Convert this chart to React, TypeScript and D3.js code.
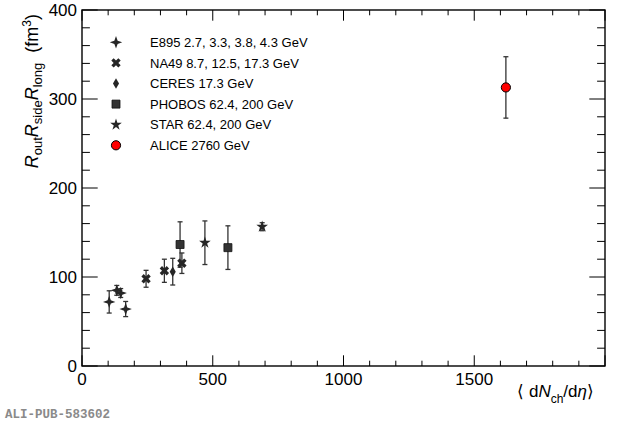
import React from "react";
import * as d3 from "d3";

const W = 620;
const H = 423;
const M = { left: 82, right: 605, top: 10, bottom: 366 };

const xTicksMajor = [0, 500, 1000, 1500, 2000];
const xTickLabels = ["0", "500", "1000", "1500"];
const yTicksMajor = [0, 100, 200, 300, 400];
const yTickLabels = ["0", "100", "200", "300", "400"];

// Data
const e895X = [104, 133, 148, 167];
const e895Y = [72, 85, 82, 64];
const e895E = [12.5, 5.5, 5, 8.5];

const na49X = [245, 315, 382];
const na49Y = [98, 107, 115.5];
const na49E = [9.5, 13, 11.5];

const ceresX = [347];
const ceresY = [106];
const ceresE = [15];

const phobosX = [375, 558];
const phobosY = [136.5, 133];
const phobosE = [25.5, 24.5];

const starX = [470, 689];
const starY = [138.5, 156.5];
const starE = [24.5, 4.5];

const aliceX = [1621];
const aliceY = [313];
const aliceE = [34.5];

const legendLabels = [
  "E895 2.7, 3.3, 3.8, 4.3 GeV",
  "NA49 8.7, 12.5, 17.3 GeV",
  "CERES 17.3 GeV",
  "PHOBOS 62.4, 200 GeV",
  "STAR 62.4, 200 GeV",
  "ALICE 2760 GeV",
];

const DARK = "#262626";

function star4(r: number, ri: number) {
  const pts: [number, number][] = [];
  for (let i = 0; i < 8; i++) {
    const a = (Math.PI / 4) * i - Math.PI / 2;
    const rr = i % 2 === 0 ? r : ri;
    pts.push([rr * Math.cos(a), rr * Math.sin(a)]);
  }
  return "M" + pts.map((p) => p.join(",")).join("L") + "Z";
}

type MarkerKind = "star4" | "x" | "diamond" | "square" | "star5" | "circle";

function Marker({ kind, x, y }: { kind: MarkerKind; x: number; y: number }) {
  if (kind === "star4") {
    return <path d={star4(6.2, 2.3)} transform={`translate(${x},${y})`} fill={DARK} />;
  }
  if (kind === "x") {
    return (
      <path
        d={d3.symbol().type(d3.symbolCross).size(55)()!}
        transform={`translate(${x},${y}) rotate(45)`}
        fill={DARK}
      />
    );
  }
  if (kind === "diamond") {
    return (
      <path d={d3.symbol().type(d3.symbolDiamond).size(32)()!} transform={`translate(${x},${y})`} fill={DARK} />
    );
  }
  if (kind === "square") {
    return (
      <path
        d={d3.symbol().type(d3.symbolSquare).size(64)()!}
        transform={`translate(${x},${y})`}
        fill="#333"
        stroke="#111"
        strokeWidth={0.8}
      />
    );
  }
  if (kind === "star5") {
    return (
      <path d={d3.symbol().type(d3.symbolStar).size(42)()!} transform={`translate(${x},${y})`} fill={DARK} />
    );
  }
  return (
    <circle cx={x} cy={y} r={4.6} fill="#ff0000" stroke="#000" strokeWidth={1} />
  );
}

export default function App() {
  const x = d3.scaleLinear().domain([0, 2000]).range([M.left, M.right]);
  const y = d3.scaleLinear().domain([0, 400]).range([M.bottom, M.top]);

  const xMinor = d3.range(0, 2001, 100);
  const yMinor = d3.range(0, 401, 20);

  const xLenMaj = 10.7;
  const xLenMin = 5.3;
  const yLenMaj = 15.7;
  const yLenMin = 7.9;

  const series: { kind: MarkerKind; xs: number[]; ys: number[]; es: number[] }[] = [
    { kind: "star4", xs: e895X, ys: e895Y, es: e895E },
    { kind: "x", xs: na49X, ys: na49Y, es: na49E },
    { kind: "diamond", xs: ceresX, ys: ceresY, es: ceresE },
    { kind: "square", xs: phobosX, ys: phobosY, es: phobosE },
    { kind: "star5", xs: starX, ys: starY, es: starE },
    { kind: "circle", xs: aliceX, ys: aliceY, es: aliceE },
  ];

  const font = "'Liberation Sans', Arial, Helvetica, sans-serif";

  return (
    <svg
      width={W}
      height={H}
      style={{ position: "absolute", left: 0, top: 0, background: "#fff" }}
      fontFamily={font}
    >
      <rect x={0} y={0} width={W} height={H} fill="#fff" />
      {/* ticks */}
      <g stroke="#000" strokeWidth={1}>
        {xMinor.map((v) => {
          const maj = v % 500 === 0;
          const L = maj ? xLenMaj : xLenMin;
          return (
            <g key={"xt" + v}>
              <line x1={x(v)} x2={x(v)} y1={M.bottom} y2={M.bottom - L} />
              <line x1={x(v)} x2={x(v)} y1={M.top} y2={M.top + L} />
            </g>
          );
        })}
        {yMinor.map((v) => {
          const maj = v % 100 === 0;
          const L = maj ? yLenMaj : yLenMin;
          return (
            <g key={"yt" + v}>
              <line x1={M.left} x2={M.left + L} y1={y(v)} y2={y(v)} />
              <line x1={M.right} x2={M.right - L} y1={y(v)} y2={y(v)} />
            </g>
          );
        })}
      </g>
      <rect
        x={M.left}
        y={M.top}
        width={M.right - M.left}
        height={M.bottom - M.top}
        fill="none"
        stroke="#000"
        strokeWidth={1.4}
      />
      {/* tick labels */}
      <g fontSize={17} fill="#000">
        {xTickLabels.map((t, i) => (
          <text key={"xl" + t} x={x(xTicksMajor[i])} y={385} textAnchor="middle">
            {t}
          </text>
        ))}
        {yTickLabels.map((t, i) => (
          <text key={"yl" + t} x={77} y={y(yTicksMajor[i]) + 6} textAnchor="end">
            {t}
          </text>
        ))}
      </g>
      {/* axis titles */}
      <text transform="translate(38,14) rotate(-90)" textAnchor="end" fontSize={18} fill="#000">
        <tspan fontStyle="italic">R</tspan>
        <tspan fontSize={13} dy={4}>out</tspan>
        <tspan fontStyle="italic" dy={-4}>R</tspan>
        <tspan fontSize={13} dy={4}>side</tspan>
        <tspan fontStyle="italic" dy={-4}>R</tspan>
        <tspan fontSize={13} dy={4}>long</tspan>
        <tspan dy={-4}>{"\u00A0\u00A0(fm"}</tspan>
        <tspan fontSize={12} dy={-7}>3</tspan>
        <tspan dy={7}>)</tspan>
      </text>
      <text x={594} y={397} textAnchor="end" fontSize={17} fill="#000">
        <tspan>{"\u27E8 d"}</tspan>
        <tspan fontStyle="italic">N</tspan>
        <tspan fontSize={12} dy={6}>ch</tspan>
        <tspan dy={-6}>/d</tspan>
        <tspan fontStyle="italic">{"\u03B7"}</tspan>
        <tspan>{"\u27E9"}</tspan>
      </text>
      {/* error bars */}
      <g stroke="#333" strokeWidth={1.3}>
        {series.map((s, si) =>
          s.xs.map((xv, i) => {
            const cx = x(xv);
            const y1 = y(s.ys[i] - s.es[i]);
            const y2 = y(s.ys[i] + s.es[i]);
            return (
              <g key={`e${si}-${i}`}>
                <line x1={cx} x2={cx} y1={y1} y2={y2} />
                <line x1={cx - 2.5} x2={cx + 2.5} y1={y1} y2={y1} />
                <line x1={cx - 2.5} x2={cx + 2.5} y1={y2} y2={y2} />
              </g>
            );
          })
        )}
      </g>
      {/* markers */}
      {series.map((s, si) =>
        s.xs.map((xv, i) => <Marker key={`m${si}-${i}`} kind={s.kind} x={x(xv)} y={y(s.ys[i])} />)
      )}
      {/* legend */}
      {legendLabels.map((lab, i) => {
        const ly = 42.3 + i * 20.6;
        return (
          <g key={"lg" + i}>
            <Marker kind={series[i].kind} x={116} y={ly} />
            <text x={150} y={ly + 4.7} fontSize={13} fill="#000">
              {lab}
            </text>
          </g>
        );
      })}
      <text
        x={5}
        y={418}
        fontFamily="'Liberation Mono', 'DejaVu Sans Mono', monospace"
        fontWeight="bold"
        fontSize={12.5}
        fill="#8a8a8a"
      >
        ALI-PUB-583602
      </text>
    </svg>
  );
}
